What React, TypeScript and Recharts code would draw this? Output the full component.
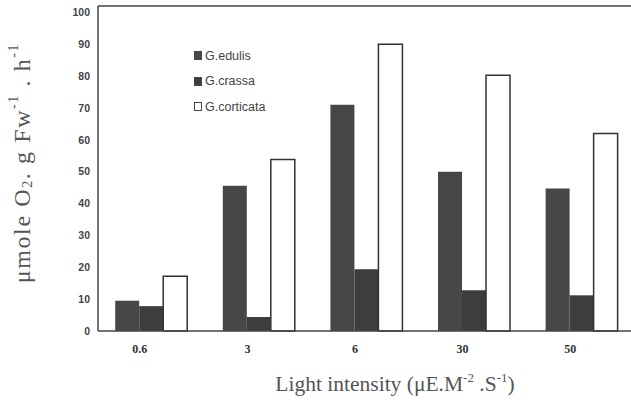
import { BarChart, Bar, XAxis, YAxis, ReferenceLine, Label } from 'recharts';

// light intensity levels and O2 evolution rates per species
const categories = ['0.6', '3', '6', '30', '50'];
const edulis = [9.5, 45.6, 71, 50, 44.7];
const crassa = [7.8, 4.4, 19.4, 12.8, 11.2];
const corticata = [17.2, 53.8, 90, 80.3, 62];
const yTicks = [0, 10, 20, 30, 40, 50, 60, 70, 80, 90, 100];

const data = categories.map((c, i) => ({
  name: c,
  edulis: edulis[i],
  crassa: crassa[i],
  corticata: corticata[i],
}));

const legendItems = [
  { label: 'G.edulis', fill: '#474747' },
  { label: 'G.crassa', fill: '#3d3d3d' },
  { label: 'G.corticata', fill: '#ffffff' },
];

function LegendBox() {
  return (
    <div
      style={{
        position: 'absolute',
        left: 194,
        top: 43,
        fontFamily: 'Arial, "Liberation Sans", sans-serif',
        fontSize: 12.5,
        color: '#444',
      }}
    >
      {legendItems.map((it) => (
        <div key={it.label} style={{ display: 'flex', alignItems: 'center', height: 25.5 }}>
          <span
            style={{
              display: 'inline-block',
              width: 8,
              height: 9,
              background: it.fill,
              border: '1px solid #444',
              marginRight: 3,
              boxSizing: 'border-box',
            }}
          />
          <span>{it.label}</span>
        </div>
      ))}
    </div>
  );
}

function YTitle() {
  return (
    <text
      transform="rotate(-90, 22, 163)"
      x={22}
      y={163}
      textAnchor="middle"
      dominantBaseline="central"
      fontFamily='"Liberation Serif", "Times New Roman", serif'
      fontSize={24}
      letterSpacing={1.6}
      fill="#555"
    >
      μmole O<tspan fontSize={14} dy={5}>2</tspan>
      <tspan dy={-5}>. g Fw</tspan>
      <tspan fontSize={14} dy={-9}>-1</tspan>
      <tspan dy={9}> . h</tspan>
      <tspan fontSize={14} dy={-9}>-1</tspan>
    </text>
  );
}

function XTitle() {
  return (
    <text
      x={395}
      y={391}
      textAnchor="middle"
      fontFamily='"Liberation Serif", "Times New Roman", serif'
      fontSize={21.5}
      fill="#555"
    >
      Light intensity (μE.M<tspan fontSize={13} dy={-9}>-2</tspan>
      <tspan dy={9}> .S</tspan>
      <tspan fontSize={13} dy={-9}>-1</tspan>
      <tspan dy={9}>)</tspan>
    </text>
  );
}

export default function App() {
  return (
    <div
      style={{
        position: 'fixed',
        left: 0,
        top: 0,
        width: 631,
        height: 407,
        overflow: 'hidden',
        background: '#fff',
      }}
    >
      <BarChart
        width={636}
        height={407}
        data={data}
        margin={{ top: 6, right: 0, left: 0, bottom: 0 }}
        barCategoryGap="16%"
        barGap={0}
      >
        <XAxis
          dataKey="name"
          height={76}
          tickLine={false}
          axisLine={{ stroke: '#444', strokeWidth: 1.5 }}
          tickMargin={7}
          dx={-12}
          tick={{
            fill: '#333',
            fontSize: 12,
            fontWeight: 'bold',
            fontFamily: '"Liberation Serif", "Times New Roman", serif',
          }}
        >
          <Label content={<XTitle />} />
        </XAxis>
        <YAxis
          width={98}
          domain={[0, 102]}
          ticks={yTicks}
          interval={0}
          tickLine={false}
          axisLine={{ stroke: '#444', strokeWidth: 1.5 }}
          tick={{
            fill: '#444',
            fontSize: 10.5,
            fontWeight: 'bold',
            fontFamily: 'Arial, "Liberation Sans", sans-serif',
          }}
        >
          <Label content={<YTitle />} />
        </YAxis>
        <ReferenceLine y={102} stroke="#444" strokeWidth={1.5} />
        <Bar dataKey="edulis" fill="#474747" isAnimationActive={false} />
        <Bar dataKey="crassa" fill="#3d3d3d" isAnimationActive={false} />
        <Bar dataKey="corticata" fill="#ffffff" stroke="#333" strokeWidth={1.5} isAnimationActive={false} />
      </BarChart>
      <LegendBox />
    </div>
  );
}
